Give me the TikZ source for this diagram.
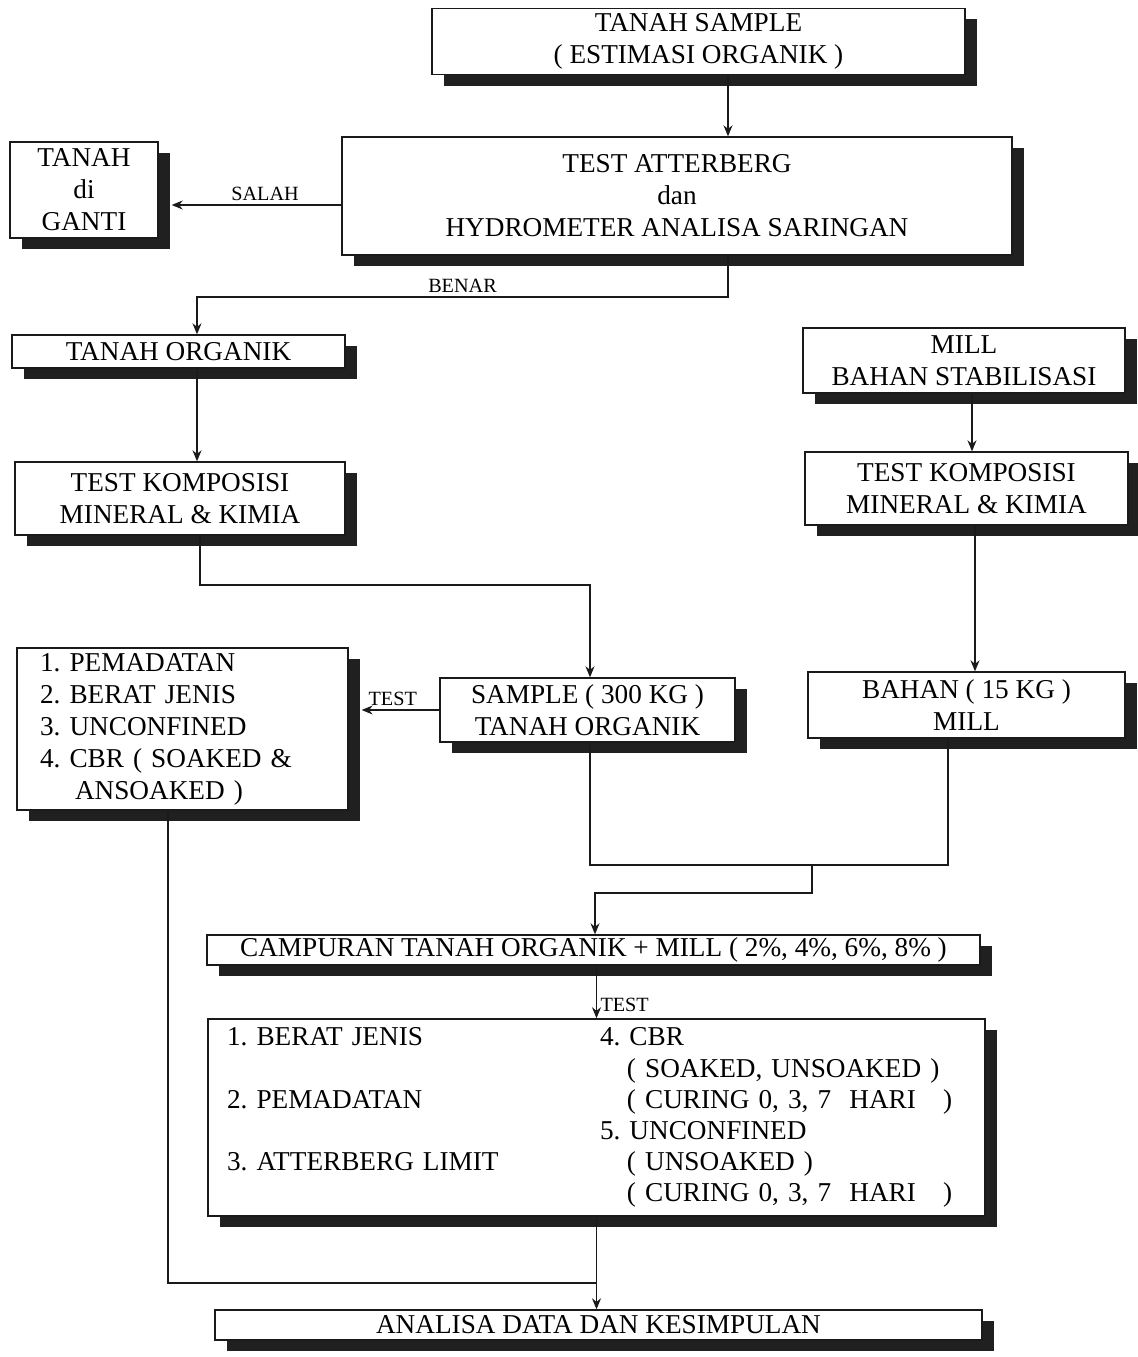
\documentclass[tikz,border=0pt]{standalone}
\usepackage{fontspec}
\setmainfont{Liberation Serif}
\usetikzlibrary{arrows.meta, positioning, calc, shadows}
\definecolor{InkBlack}{HTML}{1A1A1A}
\definecolor{ShadowBlack}{HTML}{202020}
\tikzset{
  box/.style={draw=InkBlack, line width=0.8pt, fill=white, align=center, inner sep=3pt, font=\fontsize{15.5}{18.2}\selectfont, drop shadow={shadow xshift=0.24cm, shadow yshift=-0.22cm, fill=ShadowBlack, opacity=1}},
  flatbox/.style={box, inner ysep=1pt},
  listbox/.style={box, align=left},
  arrow/.style={-{Stealth[length=2.2mm, width=1.8mm]}, line width=0.6pt, draw=InkBlack},
  wire/.style={line width=0.6pt, draw=InkBlack},
  lbl/.style={font=\fontsize{11.5}{13}\selectfont, inner sep=2pt}
}
\frenchspacing

\begin{document}
\begin{tikzpicture}[x=0.02cm, y=-0.02cm]
\fill[white] (0,0) rectangle (1138,1357);
\useasboundingbox (0,0) rectangle (1138,1357);

% top of the chart
\node[box, minimum width=10.66cm, minimum height=1.26cm] (sample) at (698.5,41.5) {TANAH SAMPLE\\( ESTIMASI ORGANIK )};
\node[box, minimum width=13.4cm, minimum height=2.36cm] (atterberg) at (677,196) {TEST ATTERBERG\\dan\\HYDROMETER ANALISA SARINGAN};
\node[box, minimum width=2.96cm, minimum height=1.92cm] (ganti) at (84,190) {TANAH\\di\\GANTI};

% two branches
\node[box, inner ysep=1pt, minimum width=6.66cm, minimum height=0.66cm] (organik) at (178.5,351.5) {TANAH ORGANIK};
\node[box, minimum width=6.44cm, minimum height=1.3cm] (mill) at (964,360.5) {MILL\\BAHAN STABILISASI};
\node[box, minimum width=6.6cm, minimum height=1.46cm] (kompL) at (180,498.5) {TEST KOMPOSISI\\MINERAL \& KIMIA};
\node[box, minimum width=6.46cm, minimum height=1.46cm] (kompR) at (966.5,488.5) {TEST KOMPOSISI\\MINERAL \& KIMIA};
\node[listbox, text width=5.7cm, inner xsep=0.46cm, minimum height=3.16cm] (uji) at (182.5,729) {1. PEMADATAN\\2. BERAT JENIS\\3. UNCONFINED\\4. CBR ( SOAKED \&\\\hspace{0.7cm}ANSOAKED )};
\node[box, minimum width=5.9cm, minimum height=1.28cm] (sampel) at (587.5,710) {SAMPLE ( 300 KG )\\TANAH ORGANIK};
\node[box, minimum width=6.34cm, minimum height=1.32cm] (bahan) at (966.5,705) {BAHAN ( 15 KG )\\MILL};

% mixture and tests
\node[flatbox, minimum width=15.46cm, minimum height=0.6cm] (campur) at (593.5,950) {CAMPURAN TANAH ORGANIK + MILL ( 2\%, 4\%, 6\%, 8\% )};
\node[listbox, text width=14.78cm, inner xsep=0.38cm, minimum height=3.9cm] (hasil) at (596.5,1117.5) {\fontsize{15.5}{17.7}\selectfont
\begin{tabular}{@{}p{7.46cm}@{}l@{}}
1. BERAT JENIS & 4. CBR\\
 & \hspace{0.54cm}( SOAKED, UNSOAKED )\\
2. PEMADATAN & \hspace{0.54cm}( CURING 0, 3, 7~~HARI~~~)\\
 & 5. UNCONFINED\\
3. ATTERBERG LIMIT & \hspace{0.54cm}( UNSOAKED )\\
 & \hspace{0.54cm}( CURING 0, 3, 7~~HARI~~~)
\end{tabular}};
\node[flatbox, minimum width=15.34cm, minimum height=0.6cm] (analisa) at (598.5,1325) {ANALISA DATA DAN KESIMPULAN};

% bends of the connectors
\coordinate (colB) at (728,0);
\coordinate (colL) at (197,0);
\coordinate (colR) at (972,0);
\coordinate (benar) at (728,297);
\coordinate (kiri) at (400,585);
\coordinate (jn) at (812,865);
\coordinate (jn2) at (812,893);
\coordinate (jm) at (0,1283);

\draw[arrow] (sample.south -| colB) -- (atterberg.north -| colB);
\draw[arrow] ([yshift=-0.18cm]atterberg.west) -- node[lbl, above, pos=0.45] (lbSalah) {SALAH} ([yshift=-0.18cm, xshift=0.26cm]atterberg.west -| ganti.east);
\draw[arrow] (atterberg.south -| colB) -- (benar) -| node[lbl, above, pos=0.25] (lbBenar) {BENAR} (organik.north -| colL);
\draw[arrow] (organik.south -| colL) -- (kompL.north -| colL);
\draw[arrow] (mill.south -| colR) -- (kompR.north -| colR);
\draw[arrow] ([xshift=0.06cm]kompL.south -| colL) |- (kiri) -| ([xshift=0.05cm]sampel.north);
\draw[arrow] ([xshift=0.06cm]kompR.south -| colR) -- ([xshift=0.06cm]bahan.north -| colR);
\draw[arrow] (sampel.west) -- node[lbl, above, pos=0.6] (lbTest) {TEST} ([xshift=0.26cm]sampel.west -| uji.east);
\draw[wire] ([xshift=0.05cm]sampel.south) |- (jn) -| ([xshift=-0.37cm]bahan.south);
\draw[arrow] (jn) -- (jn2) -| ([xshift=0.03cm]campur.north);
\draw[arrow] (campur.south -| hasil.north) -- node[lbl, right, pos=0.75] (lbTest2) {TEST} (hasil.north);
\draw[arrow] (hasil.south) -- (hasil.south |- analisa.north);
\draw[wire] ([xshift=-0.29cm]uji.south) |- (hasil.south |- jm);
\end{tikzpicture}
\end{document}
